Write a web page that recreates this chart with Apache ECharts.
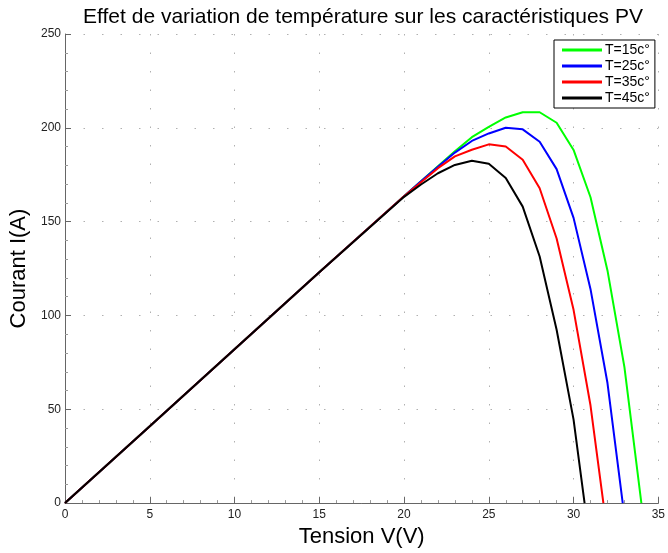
<!DOCTYPE html>
<html>
<head>
<meta charset="utf-8">
<script src="https://cdn.jsdelivr.net/npm/echarts@6/dist/echarts.min.js"></script>
<style>
html,body{margin:0;padding:0;background:#fff;}
#c{width:668px;height:553px;}
</style>
</head>
<body>
<div id="c"></div>
<script>
var titleText = 'Effet de variation de température sur les caractéristiques PV';
var xName = 'Tension V(V)';
var yName = 'Courant I(A)';
var seriesNames = ['T=15c°', 'T=25c°', 'T=35c°', 'T=45c°'];
var seriesColors = ['#00ff00', '#0000ff', '#ff0000', '#000000'];

// Voltage (V) and current (A)
var v15 = [0, 5, 10, 15, 20, 21, 22, 23, 24, 25, 26, 27, 28, 29, 30, 31, 32, 33, 34];
var i15 = [0, 41, 82, 123, 163.5, 171.5, 179.5, 187.5, 195, 200.5, 205.5, 208.3, 208.3, 202.7, 188.2, 163, 124, 72.5, 0];

var v25 = [0, 5, 10, 15, 20, 21, 22, 23, 24, 25, 26, 27, 28, 29, 30, 31, 32, 32.9];
var i25 = [0, 41, 82, 123, 163.5, 171.5, 179.3, 186.8, 193, 197, 200, 199.2, 192.6, 178, 152, 114, 64, 0];

var v35 = [0, 5, 10, 15, 20, 21, 22, 23, 24, 25, 26, 27, 28, 29, 30, 31, 31.76];
var i35 = [0, 41, 82, 123, 163.5, 171, 178.5, 184.8, 188.3, 191.2, 190, 183, 167.8, 141, 103, 52, 0];

var v45 = [0, 5, 10, 15, 20, 21, 22, 23, 24, 25, 26, 27, 28, 29, 30, 30.65];
var i45 = [0, 41, 82, 123, 163.2, 169.8, 175.8, 180.2, 182.5, 180.8, 173.2, 158, 131.4, 92.4, 44.5, 0];

var xTicks = {min: 0, max: 35, interval: 5};
var yTicks = {min: 0, max: 250, interval: 50};

function pairs(xs, ys){ return xs.map(function(x, k){ return [x, ys[k]]; }); }
var allV = [v15, v25, v35, v45];
var allI = [i15, i25, i35, i45];

var chart = echarts.init(document.getElementById('c'), null, {renderer: 'canvas'});
var labelFont = "'Liberation Sans Narrow', 'Liberation Sans', Arial, sans-serif";
var mainFont = "'Liberation Sans', Arial, sans-serif";
var gridLine = {show: true, lineStyle: {color: '#b0b0b0', width: 1, type: [1.5, 17]}};

chart.setOption({
  animation: false,
  backgroundColor: '#ffffff',
  title: {
    text: titleText,
    left: 358, textAlign: 'center', top: 2,
    textStyle: {fontFamily: mainFont, fontSize: 21, fontWeight: 'normal', color: '#000'}
  },
  legend: {
    data: seriesNames,
    orient: 'vertical',
    left: 554, top: 40,
    icon: 'rect',
    backgroundColor: '#fff',
    borderColor: '#000', borderWidth: 1, borderRadius: 0,
    padding: [3, 5, 3, 8],
    itemWidth: 40, itemHeight: 3, itemGap: 2,
    textStyle: {fontFamily: mainFont, fontSize: 14, color: '#000', padding: [0, 0, 0, -2], lineHeight: 14}
  },
  grid: {left: 65, right: 8, top: 34, bottom: 49.5, containLabel: false},
  xAxis: {
    type: 'value', min: xTicks.min, max: xTicks.max, interval: xTicks.interval,
    name: xName, nameLocation: 'middle', nameGap: 20,
    nameTextStyle: {fontFamily: mainFont, fontSize: 22, color: '#000'},
    axisLine: {show: true, onZero: false, lineStyle: {color: '#666', width: 1}},
    axisTick: {show: true, inside: true, length: 6, lineStyle: {color: '#666'}},
    minorTick: {show: true, splitNumber: 5, length: 3, lineStyle: {color: '#999'}},
    axisLabel: {fontFamily: labelFont, fontSize: 12, color: '#222', margin: 6},
    splitLine: gridLine
  },
  yAxis: {
    type: 'value', min: yTicks.min, max: yTicks.max, interval: yTicks.interval,
    name: yName, nameLocation: 'middle', nameGap: 30, nameRotate: 90,
    nameTextStyle: {fontFamily: mainFont, fontSize: 22, color: '#000'},
    axisLine: {show: true, onZero: false, lineStyle: {color: '#666', width: 1}},
    axisTick: {show: true, inside: true, length: 6, lineStyle: {color: '#666'}},
    minorTick: {show: true, splitNumber: 5, length: 3, lineStyle: {color: '#999'}},
    axisLabel: {fontFamily: labelFont, fontSize: 12, color: '#222', margin: 4},
    splitLine: gridLine
  },
  series: seriesNames.map(function(n, k){
    return {
      name: n, type: 'line', data: pairs(allV[k], allI[k]),
      symbol: 'none', showSymbol: false, clip: true, z: 2 + k,
      lineStyle: {color: seriesColors[k], width: 2},
      itemStyle: {color: seriesColors[k]}
    };
  })
});
</script>
</body>
</html>
